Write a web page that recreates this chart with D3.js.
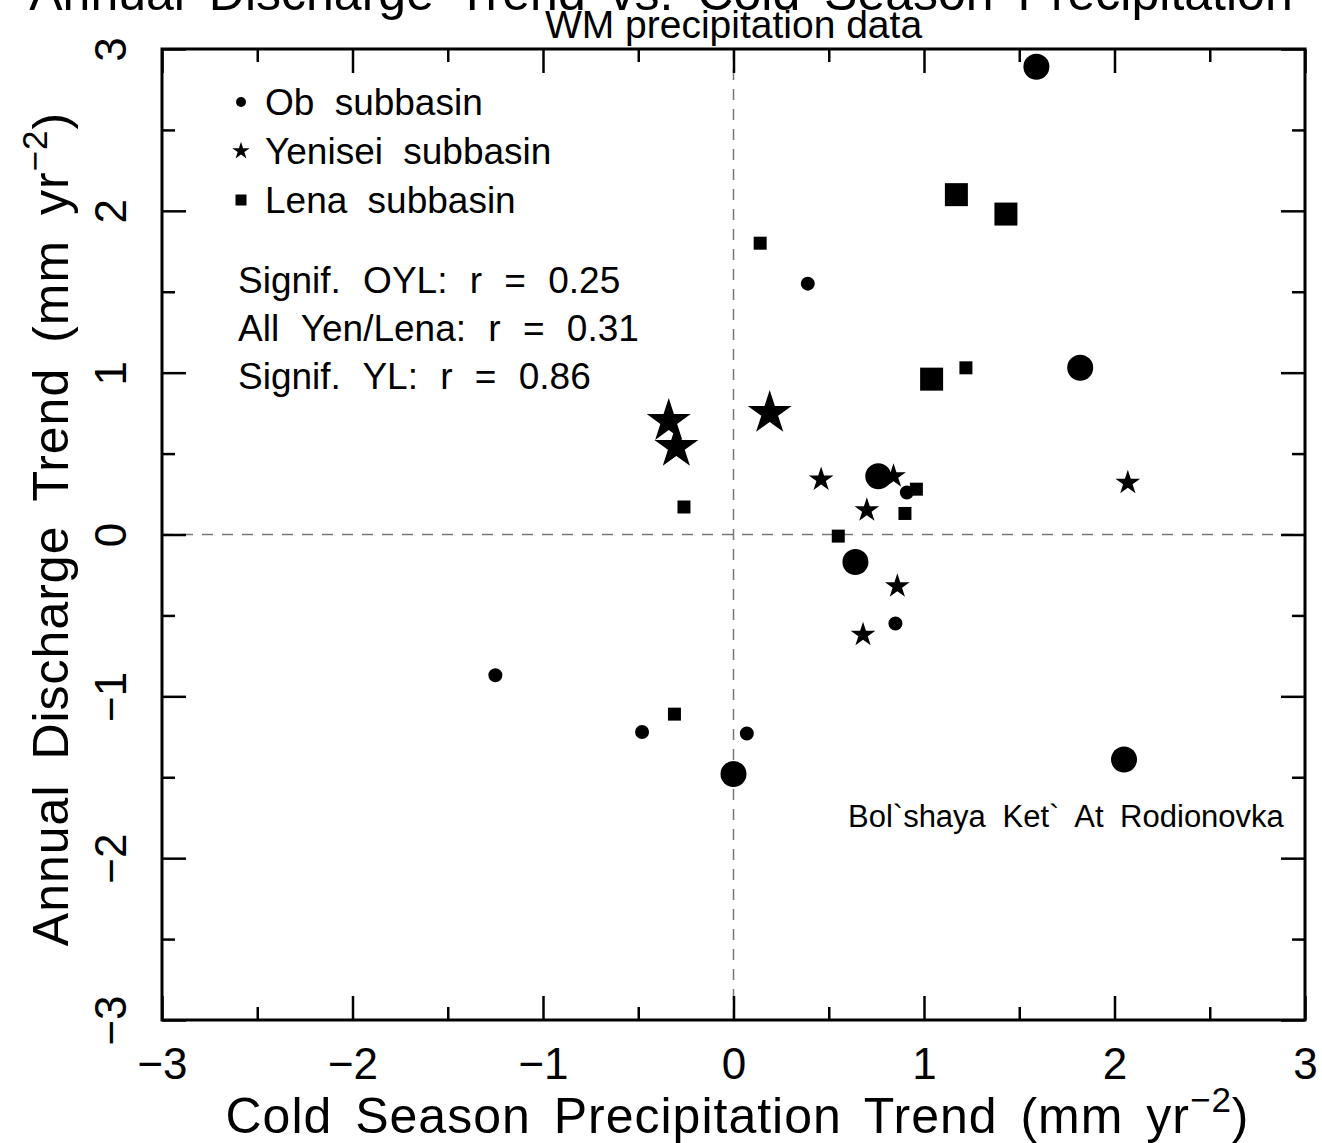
<!DOCTYPE html>
<html>
<head>
<meta charset="utf-8">
<script src="https://cdn.jsdelivr.net/npm/d3@7"></script>
<style>
  body { margin: 0; background: #fff; }
  svg { display: block; }
  .axis path { display: none; }
  .axis line { stroke: #000; stroke-width: 2.5; }
  .axis text { font-family: "Liberation Sans", Arial, sans-serif; font-size: 44px; fill: #000; }
</style>
</head>
<body>
<div id="chart"></div>
<script>
// Ob subbasin (circles); signif = 1 drawn large
const obX = [1.59, 1.82, 0.76, 0.64, 0.00, 2.05, 0.39, -1.25, -0.48, 0.07, 0.85, 0.91];
const obY = [2.89, 1.03, 0.36, -0.17, -1.48, -1.39, 1.55, -0.87, -1.22, -1.23, -0.55, 0.26];
const obSignif = [1, 1, 1, 1, 1, 1, 0, 0, 0, 0, 0, 0];

// Yenisei subbasin (stars)
const yenX = [-0.34, -0.30, 0.19, 0.46, 0.70, 0.84, 0.86, 0.68, 2.07];
const yenY = [0.70, 0.54, 0.75, 0.34, 0.15, 0.36, -0.32, -0.62, 0.32];
const yenSignif = [1, 1, 1, 0, 0, 0, 0, 0, 0];

// Lena subbasin (squares)
const lenaX = [1.17, 1.43, 1.04, 0.14, 1.22, -0.26, 0.96, 0.90, 0.55, -0.31];
const lenaY = [2.10, 1.98, 0.96, 1.80, 1.03, 0.17, 0.28, 0.13, -0.01, -1.11];
const lenaSignif = [1, 1, 1, 0, 0, 0, 0, 0, 0, 0];

const legendLabels = ["Ob subbasin", "Yenisei subbasin", "Lena subbasin"];
const statLines = ["Signif. OYL: r = 0.25", "All Yen/Lena: r = 0.31", "Signif. YL: r = 0.86"];
const majorTicks = [-3, -2, -1, 0, 1, 2, 3];
const minorTicks = [-2.5, -1.5, -0.5, 0.5, 1.5, 2.5];
const stationLabel = "Bol`shaya Ket` At Rodionovka";

const W = 1322, H = 1143;
const margin = { top: 49, right: 17, bottom: 123, left: 162 };
const width = W - margin.left - margin.right;
const height = H - margin.top - margin.bottom;
const font = "'Liberation Sans', Arial, sans-serif";

const svg = d3.select("#chart").append("svg")
    .attr("width", W)
    .attr("height", H);

const g = svg.append("g")
    .attr("transform", `translate(${margin.left},${margin.top})`);

const x = d3.scaleLinear().domain([-3, 3]).range([0, width]);
const y = d3.scaleLinear().domain([-3, 3]).range([height, 0]);

// zero lines
g.append("line")
    .attr("x1", x(0)).attr("x2", x(0))
    .attr("y1", 0).attr("y2", height)
    .attr("stroke", "#777").attr("stroke-width", 1.5)
    .attr("stroke-dasharray", "11,9");
g.append("line")
    .attr("x1", 0).attr("x2", width)
    .attr("y1", y(0)).attr("y2", y(0))
    .attr("stroke", "#777").attr("stroke-width", 1.5)
    .attr("stroke-dasharray", "11,9");

// axes: major ticks with labels on bottom/left, ticks only on top/right
const fmt = d => d < 0 ? "\u2212" + Math.abs(d) : String(d);

g.append("g").attr("class", "axis")
    .attr("transform", `translate(0,${height})`)
    .call(d3.axisBottom(x).tickValues(majorTicks).tickSize(-24).tickPadding(28).tickFormat(fmt));
g.append("g").attr("class", "axis")
    .attr("transform", `translate(0,${height})`)
    .call(d3.axisBottom(x).tickValues(minorTicks).tickSize(-13).tickFormat(""));

g.append("g").attr("class", "axis")
    .call(d3.axisTop(x).tickValues(majorTicks).tickSize(-24).tickFormat(""));
g.append("g").attr("class", "axis")
    .call(d3.axisTop(x).tickValues(minorTicks).tickSize(-13).tickFormat(""));

const yAxisG = g.append("g").attr("class", "axis")
    .call(d3.axisLeft(y).tickValues(majorTicks).tickSize(-24).tickFormat(fmt));
yAxisG.selectAll("text")
    .attr("x", null).attr("dy", null)
    .attr("text-anchor", "middle")
    .attr("transform", "translate(-36,0) rotate(-90)");
g.append("g").attr("class", "axis")
    .call(d3.axisLeft(y).tickValues(minorTicks).tickSize(-13).tickFormat(""));

g.append("g").attr("class", "axis")
    .attr("transform", `translate(${width},0)`)
    .call(d3.axisRight(y).tickValues(majorTicks).tickSize(-24).tickFormat(""));
g.append("g").attr("class", "axis")
    .attr("transform", `translate(${width},0)`)
    .call(d3.axisRight(y).tickValues(minorTicks).tickSize(-13).tickFormat(""));

// frame
g.append("rect")
    .attr("width", width).attr("height", height)
    .attr("fill", "none").attr("stroke", "#000").attr("stroke-width", 3);

// markers
const sizes = {
    circle: [154, 531],
    star: [190, 600],
    square: [169, 529]
};
const symbols = { circle: d3.symbolCircle, star: d3.symbolStar, square: d3.symbolSquare };

function drawSeries(xs, ys, sig, kind) {
    const pts = xs.map((v, i) => ({ x: v, y: ys[i], s: sig[i] }));
    g.append("g").selectAll("path")
        .data(pts)
        .join("path")
        .attr("transform", d => `translate(${x(d.x)},${y(d.y)})`)
        .attr("d", d => d3.symbol(symbols[kind], sizes[kind][d.s])())
        .attr("fill", "#000");
}
drawSeries(obX, obY, obSignif, "circle");
drawSeries(yenX, yenY, yenSignif, "star");
drawSeries(lenaX, lenaY, lenaSignif, "square");

// legend
const legendKinds = ["circle", "star", "square"];
const legendSizes = [79, 95, 121];
const legend = g.append("g").attr("transform", "translate(79,53)");
legendLabels.forEach((lab, i) => {
    legend.append("path")
        .attr("transform", `translate(0,${i * 49})`)
        .attr("d", d3.symbol(symbols[legendKinds[i]], legendSizes[i])())
        .attr("fill", "#000");
    legend.append("text")
        .attr("x", 24).attr("y", i * 49)
        .attr("dy", "0.36em")
        .style("font-family", font).style("font-size", "37px")
        .style("word-spacing", "10px")
        .text(lab);
});

// correlation notes
statLines.forEach((t, i) => {
    g.append("text")
        .attr("x", 76).attr("y", 231 + i * 48)
        .attr("dy", "0.36em")
        .style("font-family", font).style("font-size", "37px")
        .style("word-spacing", "12px")
        .text(t);
});

// station note
g.append("text")
    .attr("x", 686).attr("y", 767)
    .attr("dy", "0.36em")
    .style("font-family", font).style("font-size", "31px")
    .style("word-spacing", "8px")
    .text(stationLabel);

// titles
svg.append("text")
    .attr("x", 661).attr("y", 10)
    .attr("text-anchor", "middle")
    .style("font-family", font).style("font-size", "50px")
    .style("word-spacing", "10px")
    .text("Annual Discharge Trend vs. Cold Season Precipitation");

svg.append("text")
    .attr("x", margin.left + x(0)).attr("y", 38)
    .attr("text-anchor", "middle")
    .style("font-family", font).style("font-size", "39px")
    .text("WM precipitation data");

const xt = svg.append("text")
    .attr("x", margin.left + width / 2 + 4).attr("y", 1133)
    .attr("text-anchor", "middle")
    .style("font-family", font).style("font-size", "50px")
    .style("letter-spacing", "1px")
    .style("word-spacing", "8px");
xt.append("tspan").text("Cold Season Precipitation Trend (mm yr");
xt.append("tspan").attr("dy", -21).style("font-size", "35px").text("\u22122");
xt.append("tspan").attr("dy", 21).text(")");

const yt = svg.append("text")
    .attr("transform", `translate(68,529) rotate(-90)`)
    .attr("text-anchor", "middle")
    .style("font-family", font).style("font-size", "50px")
    .style("letter-spacing", "1px")
    .style("word-spacing", "10px");
yt.append("tspan").text("Annual Discharge Trend (mm yr");
yt.append("tspan").attr("dy", -21).style("font-size", "35px").text("\u22122");
yt.append("tspan").attr("dy", 21).text(")");
</script>
</body>
</html>
